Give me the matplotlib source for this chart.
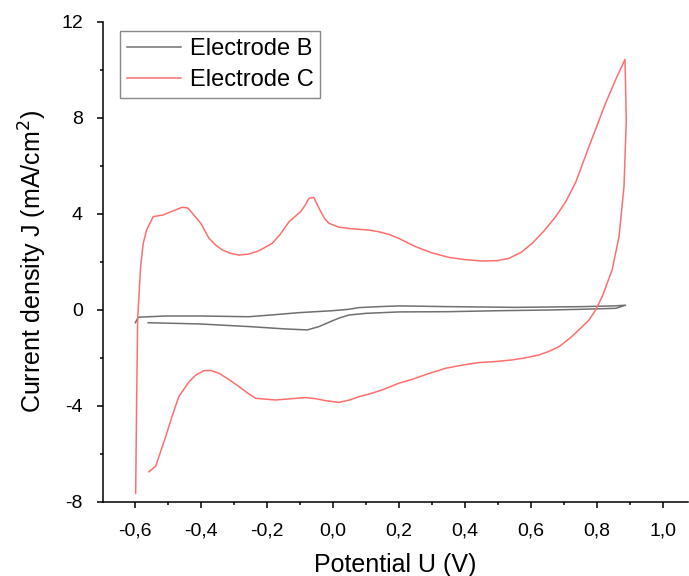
import numpy as np
import matplotlib.pyplot as plt
from matplotlib.ticker import MultipleLocator

# Electrode B (gray), one closed cycle
uB = [-0.599, -0.59, -0.507, -0.40, -0.255, -0.18, -0.103, -0.002, 0.048, 0.079,
      0.14, 0.20, 0.35, 0.553, 0.755, 0.85, 0.887,
      0.857, 0.755, 0.655, 0.50, 0.35, 0.20, 0.099, 0.048, 0.02, -0.002,
      -0.042, -0.078, -0.143, -0.255, -0.406, -0.56]
jB = [-0.53, -0.30, -0.25, -0.25, -0.28, -0.20, -0.11, -0.03, 0.03, 0.10,
      0.14, 0.17, 0.14, 0.11, 0.14, 0.17, 0.20,
      0.07, 0.03, 0.0, -0.03, -0.07, -0.08, -0.14, -0.21, -0.33, -0.45,
      -0.69, -0.83, -0.79, -0.69, -0.58, -0.53]

# Electrode C (red), anodic sweep then cathodic sweep
uC = [-0.598, -0.595, -0.592, -0.583, -0.575, -0.565, -0.545, -0.515, -0.49, -0.457,
      -0.44, -0.426, -0.40, -0.376, -0.355, -0.335, -0.31, -0.285, -0.255, -0.224,
      -0.184, -0.16, -0.133, -0.098, -0.085, -0.073, -0.058, -0.048, -0.037, -0.025,
      -0.012, 0.018, 0.048, 0.079, 0.11, 0.139, 0.17, 0.20, 0.25, 0.30,
      0.352, 0.40, 0.452, 0.50, 0.533, 0.57, 0.604, 0.64, 0.675, 0.705,
      0.735, 0.776, 0.826, 0.86, 0.885,
      0.889, 0.882, 0.867, 0.846, 0.816, 0.796, 0.776, 0.745, 0.72, 0.685,
      0.655, 0.624, 0.58, 0.543, 0.49, 0.442, 0.39, 0.341, 0.29, 0.24,
      0.20, 0.149, 0.11, 0.079, 0.05, 0.018, -0.022, -0.05, -0.083, -0.13,
      -0.174, -0.234, -0.26, -0.285, -0.315, -0.345, -0.37, -0.391, -0.415, -0.436,
      -0.467, -0.487, -0.507, -0.52, -0.537, -0.558]
jC = [-7.64, -3.75, -0.42, 1.81, 2.78, 3.33, 3.89, 3.96, 4.10, 4.28,
      4.25, 4.03, 3.60, 2.99, 2.70, 2.50, 2.36, 2.29, 2.33, 2.47,
      2.78, 3.15, 3.68, 4.10, 4.35, 4.65, 4.69, 4.40, 4.10, 3.80,
      3.61, 3.45, 3.40, 3.36, 3.33, 3.26, 3.15, 2.98, 2.64, 2.38,
      2.19, 2.10, 2.04, 2.06, 2.15, 2.40, 2.78, 3.30, 3.89, 4.50,
      5.30, 6.81, 8.61, 9.70, 10.44,
      7.92, 5.14, 3.06, 1.67, 0.56, 0.0, -0.42, -0.83, -1.15, -1.53,
      -1.72, -1.875, -2.0, -2.08, -2.15, -2.19, -2.30, -2.43, -2.65, -2.89,
      -3.05, -3.33, -3.50, -3.61, -3.75, -3.85, -3.78, -3.70, -3.65, -3.70,
      -3.75, -3.68, -3.45, -3.19, -2.90, -2.64, -2.52, -2.53, -2.70, -2.99,
      -3.60, -4.40, -5.28, -5.80, -6.50, -6.74]

xticks = [-0.6, -0.4, -0.2, 0.0, 0.2, 0.4, 0.6, 0.8, 1.0]
xlabels = ['-0,6', '-0,4', '-0,2', '0,0', '0,2', '0,4', '0,6', '0,8', '1,0']
yticks = [-8, -4, 0, 4, 8, 12]

plt.rcParams['font.family'] = ['Liberation Sans', 'DejaVu Sans']
plt.rcParams['axes.unicode_minus'] = False

fig = plt.figure(figsize=(6.89, 5.76), dpi=100)
ax = fig.add_axes([103/689, 74/576, 585/689, 480/576])

ax.plot(uB, jB, color='#707070', lw=1.1, label='Electrode B')
ax.plot(uC, jC, color='#ff6f6f', lw=1.1, label='Electrode C')

ax.set_xlim(-0.697, 1.076)
ax.set_ylim(-8, 12)
ax.set_xticks(xticks)
ax.set_xticklabels(xlabels)
ax.set_yticks(yticks)
ax.xaxis.set_minor_locator(MultipleLocator(0.1))
ax.yaxis.set_minor_locator(MultipleLocator(2))

for s in ['top', 'right']:
    ax.spines[s].set_visible(False)
for s in ['left', 'bottom']:
    ax.spines[s].set_linewidth(1.1)

ax.tick_params(which='major', direction='out', length=4.5, width=1.1,
               labelsize=14, pad=10)
ax.tick_params(which='minor', direction='out', length=2.5, width=1.1)

ax.set_xlabel('Potential U (V)', fontsize=18, labelpad=10)
ax.set_ylabel('Current density J (mA/cm$^2$)', fontsize=18, labelpad=9)

leg = ax.legend(loc='upper left', bbox_to_anchor=(0.029, 0.981), borderaxespad=0,
                fontsize=17, fancybox=False, framealpha=1, edgecolor='#888888',
                handlelength=2.3, handletextpad=0.35, labelspacing=0.37,
                borderpad=0.3)
leg.get_frame().set_linewidth(1.0)

fig.savefig('out.png', dpi=100)
